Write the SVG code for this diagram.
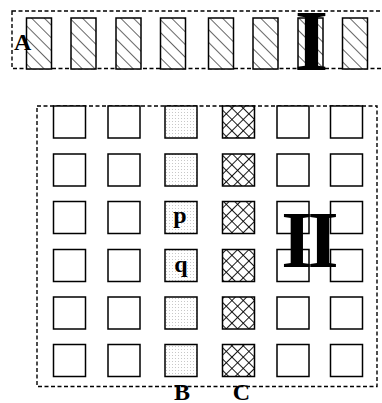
<svg xmlns="http://www.w3.org/2000/svg" width="382" height="403" viewBox="0 0 382 403">
<style>
.dash{fill:none;stroke:#000;stroke-width:1.4;stroke-dasharray:4 2.5}
.sq{stroke:#000;stroke-width:1.5}
.blank{fill:#fff}
.hatch{fill:url(#hatch)}
.dots{fill:url(#dots)}
.cross{fill:url(#cross)}
.lbl{font-family:"Liberation Serif","Times New Roman",serif;font-weight:bold;fill:#000}
</style>
<defs>
<pattern id="hatch" patternUnits="userSpaceOnUse" width="9" height="9" patternTransform="rotate(-45)">
<rect width="9" height="9" fill="#fff"/>
<line x1="0" y1="0" x2="0" y2="9" stroke="#000" stroke-width="1.2"/>
</pattern>
<pattern id="dots" patternUnits="userSpaceOnUse" width="3" height="3">
<rect width="3" height="3" fill="#fff"/>
<rect x="1" y="1" width="1" height="1" fill="#c8c8c8"/>
</pattern>
<pattern id="cross" patternUnits="userSpaceOnUse" width="8" height="8" patternTransform="rotate(45)">
<rect width="8" height="8" fill="#fff"/>
<line x1="0" y1="0" x2="8" y2="0" stroke="#000" stroke-width="1.8"/>
<line x1="0" y1="0" x2="0" y2="8" stroke="#000" stroke-width="1.8"/>
</pattern>
</defs>
<g id="regionI">
<rect class="dash" x="12" y="11" width="380" height="57.5"/>
</g>
<g id="topbars">
<rect class="sq hatch" x="26.5" y="18" width="25" height="51"/>
<rect class="sq hatch" x="71" y="18" width="25" height="51"/>
<rect class="sq hatch" x="116" y="18" width="25" height="51"/>
<rect class="sq hatch" x="160.5" y="18" width="25" height="51"/>
<rect class="sq hatch" x="208.5" y="18" width="25" height="51"/>
<rect class="sq hatch" x="253" y="18" width="25" height="51"/>
<rect class="sq hatch" x="298" y="18" width="25" height="51"/>
<rect class="sq hatch" x="342.5" y="18" width="25" height="51"/>
</g>
<g id="regionII">
<rect class="dash" x="37" y="106" width="340" height="280.5"/>
</g>
<g id="grid">
<g id="row1">
<rect class="sq blank" x="53.5" y="106" width="32" height="32"/>
<rect class="sq blank" x="108" y="106" width="32" height="32"/>
<rect class="sq dots" x="165" y="106" width="32" height="32"/>
<rect class="sq cross" x="222.5" y="106" width="32" height="32"/>
<rect class="sq blank" x="277" y="106" width="32" height="32"/>
<rect class="sq blank" x="330.5" y="106" width="32" height="32"/>
</g>
<g id="row2">
<rect class="sq blank" x="53.5" y="154" width="32" height="32"/>
<rect class="sq blank" x="108" y="154" width="32" height="32"/>
<rect class="sq dots" x="165" y="154" width="32" height="32"/>
<rect class="sq cross" x="222.5" y="154" width="32" height="32"/>
<rect class="sq blank" x="277" y="154" width="32" height="32"/>
<rect class="sq blank" x="330.5" y="154" width="32" height="32"/>
</g>
<g id="row3">
<rect class="sq blank" x="53.5" y="201.5" width="32" height="32"/>
<rect class="sq blank" x="108" y="201.5" width="32" height="32"/>
<rect class="sq dots" x="165" y="201.5" width="32" height="32"/>
<rect class="sq cross" x="222.5" y="201.5" width="32" height="32"/>
<rect class="sq blank" x="277" y="201.5" width="32" height="32"/>
<rect class="sq blank" x="330.5" y="201.5" width="32" height="32"/>
</g>
<g id="row4">
<rect class="sq blank" x="53.5" y="249.5" width="32" height="32"/>
<rect class="sq blank" x="108" y="249.5" width="32" height="32"/>
<rect class="sq dots" x="165" y="249.5" width="32" height="32"/>
<rect class="sq cross" x="222.5" y="249.5" width="32" height="32"/>
<rect class="sq blank" x="277" y="249.5" width="32" height="32"/>
<rect class="sq blank" x="330.5" y="249.5" width="32" height="32"/>
</g>
<g id="row5">
<rect class="sq blank" x="53.5" y="297" width="32" height="32"/>
<rect class="sq blank" x="108" y="297" width="32" height="32"/>
<rect class="sq dots" x="165" y="297" width="32" height="32"/>
<rect class="sq cross" x="222.5" y="297" width="32" height="32"/>
<rect class="sq blank" x="277" y="297" width="32" height="32"/>
<rect class="sq blank" x="330.5" y="297" width="32" height="32"/>
</g>
<g id="row6">
<rect class="sq blank" x="53.5" y="344.5" width="32" height="32"/>
<rect class="sq blank" x="108" y="344.5" width="32" height="32"/>
<rect class="sq dots" x="165" y="344.5" width="32" height="32"/>
<rect class="sq cross" x="222.5" y="344.5" width="32" height="32"/>
<rect class="sq blank" x="277" y="344.5" width="32" height="32"/>
<rect class="sq blank" x="330.5" y="344.5" width="32" height="32"/>
</g>
</g>
<g id="labels">
<text class="lbl" x="14" y="50" font-size="24">A</text>
<text class="lbl" x="311.5" y="70" font-size="86" text-anchor="middle">I</text>
<text class="lbl" x="307.5" y="266.5" font-size="80" text-anchor="middle" letter-spacing="-5">II</text>
<text class="lbl" x="180" y="223" font-size="24" text-anchor="middle">p</text>
<text class="lbl" x="181" y="272" font-size="24" text-anchor="middle">q</text>
<text class="lbl" x="182" y="400" font-size="24" text-anchor="middle">B</text>
<text class="lbl" x="241.5" y="400" font-size="24" text-anchor="middle">C</text>
</g>
</svg>
